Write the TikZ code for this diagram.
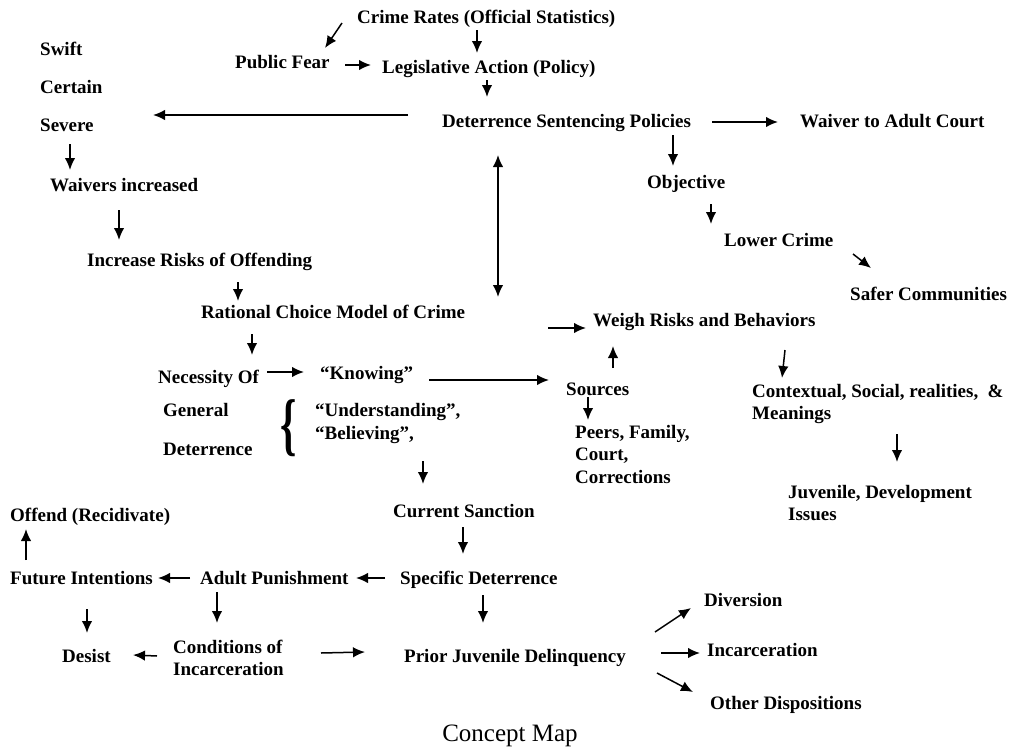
\documentclass[tikz,border=0pt]{standalone}
\usepackage{fontspec}
\setmainfont{Liberation Serif}
\usetikzlibrary{arrows.meta}

\begin{document}
\begin{tikzpicture}[x=1pt, y=-1pt, >={Latex[length=12pt,width=10.5pt]},
	base/.style={anchor=west, inner sep=0pt,
		font=\fontsize{19}{22.5}\selectfont\bfseries},
	concept/.style={base, text height=15pt, text depth=2pt},
	block/.style={base, align=left},
	link/.style={->, line width=1.5pt}]
	\useasboundingbox (0,0) rectangle (1010,750);
	% top: crime rates down to the sentencing policies
	\node[concept] (crime) at (357,17) {Crime Rates (Official Statistics)};
	\node[concept] (fear) at (235,62) {Public Fear};
	\node[concept] (leg) at (382,67) {Legislative Action (Policy)};
	\node[concept] (swift) at (40,49) {Swift};
	\node[concept] (certain) at (40,87) {Certain};
	\node[concept] (severe) at (40,125) {Severe};
	\node[concept] (dsp) at (442,121) {Deterrence Sentencing Policies};
	\node[concept] (waiver) at (800,121) {Waiver to Adult Court};
	\node[concept] (waivers) at (50,185) {Waivers increased};
	\node[concept] (obj) at (647,182) {Objective};
	\node[concept] (lower) at (724,240) {Lower Crime};
	\node[concept] (risks) at (87,260) {Increase Risks of Offending};
	\node[concept] (safer) at (850,294) {Safer Communities};
	% middle: rational choice and general deterrence
	\node[concept] (rcm) at (201,312) {Rational Choice Model of Crime};
	\node[concept] (weigh) at (593,320) {Weigh Risks and Behaviors};
	\node[concept] (nec) at (158,377) {Necessity Of};
	\node[concept] (know) at (320,373) {“Knowing”};
	\node[concept] (src) at (566,389) {Sources};
	\node[block] (ctx) at (752,404) {Contextual, Social, realities,\ \ \&\\Meanings};
	\node[concept] (gen) at (163,410) {General};
	\node[block] (und) at (315,423.5) {“Understanding”,\\“Believing”,};
	\node[inner sep=0pt, xscale=0.6, font=\fontsize{69}{69}\selectfont\bfseries] (brace) at (289,428) {\{};
	\node[concept] (gdet) at (163,449) {Deterrence};
	\node[block] (peers) at (575,454) {Peers, Family,\\Court,\\Corrections};
	\node[block] (juv) at (788,503) {Juvenile, Development\\Issues};
	% bottom: specific deterrence
	\node[concept] (offend) at (10,515) {Offend (Recidivate)};
	\node[concept] (cur) at (393,511) {Current Sanction};
	\node[concept] (fut) at (10,578) {Future Intentions};
	\node[concept] (adult) at (200,578) {Adult Punishment};
	\node[concept] (spec) at (400,578) {Specific Deterrence};
	\node[concept] (div) at (704,600) {Diversion};
	\node[concept] (desist) at (62,656) {Desist};
	\node[block] (cond) at (173,658) {Conditions of\\Incarceration};
	\node[concept] (prior) at (404,656) {Prior Juvenile Delinquency};
	\node[concept] (inc) at (707,650) {Incarceration};
	\node[concept] (other) at (710,703) {Other Dispositions};
	\node[font=\fontsize{25}{30}\selectfont] (title) at (510,736) {Concept Map};
	\coordinate (wfrom) at (548,328);
	\path[link]
		([shift={(-15pt,-6pt)}]crime.west) edge ([shift={(90pt,14pt)}]fear.west)
		([shift={(120pt,-13pt)}]crime.west) edge ([shift={(95pt,14pt)}]leg.west)
		([shift={(110pt,-3pt)}]fear.west) edge ([shift={(-11pt,2pt)}]leg.west)
		([shift={(105pt,-13pt)}]leg.west) edge ([shift={(45pt,24pt)}]dsp.west)
		([shift={(-34pt,6pt)}]dsp.west) edge ([shift={(113pt,10pt)}]severe.west)
		([shift={(270pt,-1pt)}]dsp.west) edge ([shift={(-22pt,-1pt)}]waiver.west)
		([shift={(231pt,-14pt)}]dsp.west) edge ([shift={(26pt,16pt)}]obj.west)
		([shift={(64pt,-22pt)}]obj.west) edge ([shift={(-13pt,16pt)}]lower.west)
		([shift={(129pt,-14pt)}]lower.west) edge ([shift={(21pt,26pt)}]safer.west)
		([shift={(30pt,-19pt)}]severe.west) edge ([shift={(20pt,15pt)}]waivers.west)
		([shift={(69pt,-25pt)}]waivers.west) edge ([shift={(32pt,20pt)}]risks.west)
		([shift={(151pt,-22pt)}]risks.west) edge ([shift={(37pt,11pt)}]rcm.west)
		([shift={(56pt,-34pt)}]dsp.west) edge[<->] ([shift={(297pt,15pt)}]rcm.west)
		([shift={(51pt,-22pt)}]rcm.west) edge ([shift={(94pt,22pt)}]nec.west)
		([shift={(109pt,5pt)}]nec.west) edge ([shift={(-16pt,1pt)}]know.west)
		([shift={(109pt,-7pt)}]know.west) edge ([shift={(-17pt,9pt)}]src.west)
		(wfrom) edge ([shift={(-7pt,-8pt)}]weigh.west)
		([shift={(47pt,21pt)}]src.west) edge ([shift={(20pt,-26pt)}]weigh.west)
		([shift={(22pt,-8pt)}]src.west) edge ([shift={(13pt,34pt)}]peers.west)
		([shift={(192pt,-30pt)}]weigh.west) edge ([shift={(30pt,26pt)}]ctx.west)
		([shift={(145pt,-30pt)}]ctx.west) edge ([shift={(109pt,41pt)}]juv.west)
		([shift={(108pt,-37.5pt)}]und.west) edge ([shift={(30pt,27pt)}]cur.west)
		([shift={(70pt,-16pt)}]cur.west) edge ([shift={(63pt,24pt)}]spec.west)
		([shift={(-15pt,0pt)}]spec.west) edge ([shift={(156pt,0pt)}]adult.west)
		([shift={(-10pt,0pt)}]adult.west) edge ([shift={(148pt,0pt)}]fut.west)
		([shift={(16pt,18pt)}]fut.west) edge ([shift={(16pt,-14pt)}]offend.west)
		([shift={(77pt,-31pt)}]fut.west) edge ([shift={(25pt,23pt)}]desist.west)
		([shift={(17pt,-14pt)}]adult.west) edge ([shift={(44pt,35pt)}]cond.west)
		([shift={(-16pt,2pt)}]cond.west) edge ([shift={(71pt,1pt)}]desist.west)
		([shift={(148pt,5pt)}]cond.west) edge ([shift={(-39pt,4pt)}]prior.west)
		([shift={(83pt,-17pt)}]spec.west) edge ([shift={(79pt,33pt)}]prior.west)
		([shift={(251pt,24pt)}]prior.west) edge ([shift={(-13pt,-8pt)}]div.west)
		([shift={(257pt,3pt)}]prior.west) edge ([shift={(-7pt,-3pt)}]inc.west)
		([shift={(253pt,-17pt)}]prior.west) edge ([shift={(-17pt,11pt)}]other.west);
\end{tikzpicture}
\end{document}
